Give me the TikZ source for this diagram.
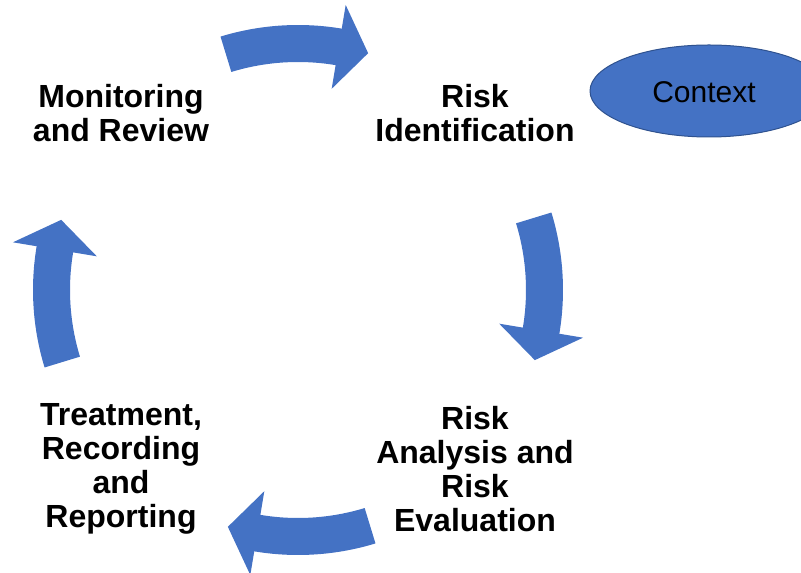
\documentclass[tikz,border=0pt]{standalone}
\usepackage{fontspec}
\setmainfont{Liberation Sans}
\usetikzlibrary{shapes.geometric}
\definecolor{cycleblue}{HTML}{4472C4}
\definecolor{edgeblue}{HTML}{2F528F}

\begin{document}
\begin{tikzpicture}[x=1pt,y=1pt,
    stagetext/.style={align=center,font=\fontsize{32}{34}\selectfont\bfseries}]
  \clip (0,0) rectangle (801,573);
  % the four stages
  \node[stagetext] (review) at (121,459.5) {Monitoring\\and Review};
  \node[stagetext] (ident) at (475,459.5) {Risk\\Identification};
  \node[stagetext] (analysis) at (475,104) {Risk\\Analysis and\\Risk\\Evaluation};
  \node[stagetext] (treat) at (121,104) {Treatment,\\Recording\\and\\Reporting};
  % context bubble
  \node[ellipse,draw=edgeblue,line width=1pt,fill=cycleblue,
    minimum width=238,minimum height=92] (context) at (709,482) {};
  \node[font=\fontsize{30}{36}\selectfont] (ctxtext) at (704,481) {Context};
  % curved block arrows, clockwise
  \begin{scope}[shift={(298,283)}]
    \foreach \a in {90,0,-90,180}
      \fill[cycleblue] (\a+17:228) arc[start angle=\a+17,end angle=\a-9.5,radius=228]
        -- (\a-9.5:204) -- (\a-16.5:247) -- (\a-9.5:289) -- (\a-9.5:265)
        arc[start angle=\a-9.5,end angle=\a+17,radius=265] -- cycle;
  \end{scope}
\end{tikzpicture}
\end{document}
